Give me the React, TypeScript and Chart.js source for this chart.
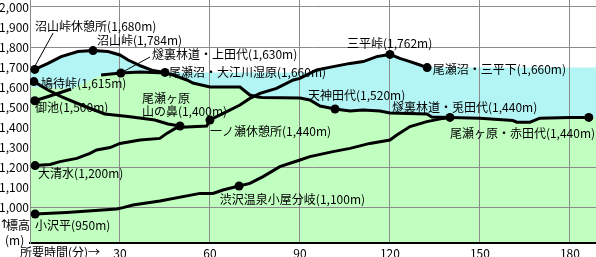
import React, { useEffect, useRef } from 'react';
import { Chart, registerables } from 'chart.js';

Chart.register(...registerables);

// ---- data (minutes from trailhead, elevation in m) ----
const xTicks = [30, 60, 90, 120, 150, 180];
const yTicks = [1000, 1100, 1200, 1300, 1400, 1500, 1600, 1700, 1800, 1900, 2000];
const yGridValues = [1000, 1200, 1800, 2000];

// 沼山峠休憩所 → 沼山峠 → 尾瀬沼・大江川湿原
const numayamaRoute: [number, number | null][] = [
  [1.6, 1688], [6, 1718], [10.4, 1752], [16, 1777], [21, 1782], [26, 1777],
  [30, 1760], [32.7, 1735], [37, 1705], [41, 1682], [45, 1673],
];
const numayamaStops = [1.6, 21, 45];

// 御池 → 燧裏林道・上田代 → 天神田代 → 兎田代 → 赤田代
const oikeRoute: [number, number | null][] = [
  [1.6, 1531], [8.7, 1565], [13.7, 1590], [18, null], [23.7, 1660], [30.3, 1670],
  [36.7, 1675], [45, 1670], [47.7, 1660], [52.3, 1635], [54.3, 1620], [60, 1600],
  [70, 1600], [73.3, 1560], [76, 1550], [77.3, 1548], [90, 1545], [93.3, 1535],
  [96.7, 1505], [101.7, 1490], [106.7, 1480], [111, 1485], [116.7, 1480], [120, 1470],
  [132.3, 1465], [134, 1450], [140, 1448], [150, 1444], [161, 1432], [162.3, 1424],
  [166.7, 1424], [170, 1444], [180, 1448], [186.3, 1448],
];
const oikeStops = [1.6, 30.3, 101.7, 140, 186.3];

// 鳩待峠 → 尾瀬ヶ原 山の鼻
const hatomachiRoute: [number, number | null][] = [
  [1.3, 1627], [6, 1585], [10.4, 1552], [17.1, 1510], [24.9, 1465], [32.7, 1452],
  [41.6, 1435], [46, 1415], [50, 1405],
];
const hatomachiStops = [1.3, 50];

// 大清水 → 一ノ瀬休憩所 → 三平峠 → 尾瀬沼・三平下
const oshimizuRoute: [number, number | null][] = [
  [1.7, 1207], [6.7, 1213], [10, 1227], [15.6, 1243], [20, 1268], [22.2, 1285],
  [26.7, 1297], [30, 1318], [36.7, 1335], [43.3, 1343], [45.6, 1368], [48.9, 1397],
  [58.9, 1405], [60, 1435], [65.6, 1477], [70, 1510], [73.3, 1543], [76.7, 1568],
  [82.2, 1593], [87.8, 1635], [90, 1643], [95.6, 1685], [101.1, 1702], [106.7, 1718],
  [111.1, 1727], [115.6, 1752], [120, 1763], [123.3, 1743], [126.7, 1727], [130, 1710],
  [132.4, 1697],
];
const oshimizuStops = [1.7, 60, 120, 132.4];

// 小沢平 → 渋沢温泉小屋分岐 → 兎田代
const kozawadairaRoute: [number, number | null][] = [
  [1.7, 965], [12.2, 973], [28.9, 990], [31, 997], [34.3, 1010], [43.3, 1030],
  [56.7, 1068], [61, 1068], [64.3, 1085], [69.7, 1105], [73.3, 1118], [77.7, 1152],
  [83.3, 1202], [90, 1235], [93.3, 1252], [101, 1277], [106.7, 1293], [113.3, 1318],
  [120, 1335], [122.3, 1360], [126.7, 1402], [132.3, 1427], [137.7, 1443], [140, 1447],
];
const kozawadairaStops = [1.7, 69.7];

// background bands
const cyanTop: [number, number][] = [
  [0, 1688], [1.6, 1688], [6, 1718], [10.4, 1752], [16, 1777], [21, 1782], [26, 1777],
  [30, 1760], [32.7, 1735], [37, 1705], [41, 1682], [45, 1673], [93.5, 1673],
  [95.6, 1685], [101.1, 1702], [106.7, 1718], [111.1, 1727], [115.6, 1752], [120, 1763],
  [123.3, 1743], [126.7, 1727], [130, 1710], [132.4, 1697], [189, 1697],
];
const greenTop: [number, number][] = [
  [0, 1600], [13.7, 1590], [23.7, 1660], [30.3, 1670], [36.7, 1675], [45, 1670],
  [47.7, 1660], [52.3, 1635], [54.3, 1620], [60, 1600], [70, 1600], [73.3, 1560],
  [76, 1550], [77.3, 1548], [90, 1545], [93.3, 1535], [96.7, 1505], [101.7, 1490],
  [106.7, 1480], [111, 1485], [116.7, 1480], [120, 1470], [132.3, 1465], [134, 1450],
  [140, 1448], [150, 1444], [161, 1432], [162.3, 1424], [166.7, 1424], [170, 1444],
  [180, 1448], [189, 1448],
];

// place names (text, anchor minutes, anchor elevation, alignment)
const placeLabels: { text: string; t: number; v: number; align?: 'left' | 'right' }[] = [
  { text: '沼山峠休憩所(1,680m)', t: 1.7, v: 1905 },
  { text: '沼山峠(1,784m)', t: 22.3, v: 1835 },
  { text: '燧裏林道・上田代(1,630m)', t: 40.7, v: 1765 },
  { text: '尾瀬沼・大江川湿原(1,660m)', t: 46.3, v: 1675 },
  { text: '鳩待峠(1,615m)', t: 3.7, v: 1620 },
  { text: '御池(1,500m)', t: 1.7, v: 1500 },
  { text: '尾瀬ヶ原', t: 37.3, v: 1545 },
  { text: '山の鼻(1,400m)', t: 37.3, v: 1480 },
  { text: '一ノ瀬休憩所(1,440m)', t: 60, v: 1380 },
  { text: '大清水(1,200m)', t: 2.7, v: 1170 },
  { text: '小沢平(950m)', t: 1.7, v: 910 },
  { text: '渋沢温泉小屋分岐(1,100m)', t: 63.3, v: 1040 },
  { text: '天神田代(1,520m)', t: 92.7, v: 1560 },
  { text: '三平峠(1,762m)', t: 105.7, v: 1820 },
  { text: '尾瀬沼・三平下(1,660m)', t: 134.3, v: 1690 },
  { text: '燧裏林道・兎田代(1,440m)', t: 120.7, v: 1500 },
  { text: '尾瀬ヶ原・赤田代(1,440m)', t: 188.4, v: 1370, align: 'right' },
];
const leaderLines: [number, number, number, number][] = [
  [1.3, 1695, 7.7, 1870],
  [30.3, 1670, 40, 1750],
];

const FONT = "'Noto Sans CJK JP', 'Noto Sans', sans-serif";

const toXY = (arr: [number, number | null][]) => arr.map(([x, y]) => ({ x, y }));

const routeDataset = (data: [number, number | null][], stops: number[]) => ({
  data: toXY(data),
  borderColor: '#000',
  borderWidth: 3,
  fill: false,
  tension: 0,
  spanGaps: false,
  pointRadius: (ctx: any) => (ctx.raw && stops.includes(ctx.raw.x) ? 4.5 : 0),
  pointBackgroundColor: '#000',
  pointBorderWidth: 0,
  pointHoverRadius: 0,
});

const labelPlugin = {
  id: 'placeLabels',
  afterDatasetsDraw(chart: any) {
    const { ctx, scales } = chart;
    const xs = scales.x;
    const ys = scales.y;
    ctx.save();
    ctx.strokeStyle = '#000';
    ctx.lineWidth = 1;
    leaderLines.forEach(([t1, v1, t2, v2]) => {
      ctx.beginPath();
      ctx.moveTo(xs.getPixelForValue(t1), ys.getPixelForValue(v1));
      ctx.lineTo(xs.getPixelForValue(t2), ys.getPixelForValue(v2));
      ctx.stroke();
    });
    ctx.fillStyle = '#000';
    ctx.font = `12px ${FONT}`;
    ctx.textBaseline = 'middle';
    placeLabels.forEach((l) => {
      ctx.textAlign = l.align || 'left';
      ctx.fillText(l.text, xs.getPixelForValue(l.t), ys.getPixelForValue(l.v));
    });
    ctx.textAlign = 'left';
    // axis captions
    const area = chart.chartArea;
    ctx.font = `12px 'DejaVu Sans', sans-serif`;
    ctx.fillText('↑', -1, area.bottom - 18);
    ctx.font = `12px ${FONT}`;
    ctx.fillText('標高', 6, area.bottom - 18);
    ctx.fillText('(m)', 5, area.bottom - 3);
    ctx.fillText('所要時間(分)→', 20, area.bottom + 9);
    ctx.restore();
  },
};

export default function App() {
  const ref = useRef<HTMLCanvasElement | null>(null);
  useEffect(() => {
    if (!ref.current) return;
    const chart = new Chart(ref.current, {
      type: 'line',
      data: {
        datasets: [
          {
            data: toXY(greenTop),
            fill: 'start',
            backgroundColor: '#c1ffc1',
            borderColor: 'rgba(0,0,0,0)',
            borderWidth: 0,
            pointRadius: 0,
            tension: 0,
          },
          {
            data: toXY(cyanTop),
            fill: 'start',
            backgroundColor: '#b3f5f5',
            borderColor: 'rgba(0,0,0,0)',
            borderWidth: 0,
            pointRadius: 0,
            tension: 0,
          },
          routeDataset(numayamaRoute, numayamaStops),
          routeDataset(oikeRoute, oikeStops),
          routeDataset(hatomachiRoute, hatomachiStops),
          routeDataset(oshimizuRoute, oshimizuStops),
          routeDataset(kozawadairaRoute, kozawadairaStops),
        ] as any,
      },
      options: {
        animation: false,
        responsive: true,
        maintainAspectRatio: false,
        events: [],
        layout: { padding: 0, autoPadding: false },
        plugins: {
          legend: { display: false },
          tooltip: { enabled: false },
          filler: { drawTime: 'beforeDraw' },
        } as any,
        scales: {
          x: {
            type: 'linear',
            min: 0,
            max: 188.7,
            afterBuildTicks: (s: any) => {
              s.ticks = xTicks.map((value) => ({ value }));
            },
            afterFit: (s: any) => {
              s.height = 14;
              s.paddingLeft = 0;
              s.paddingRight = 0;
            },
            grid: { color: '#8c8c8c', lineWidth: 1, drawTicks: false },
            border: { display: true, color: '#000', width: 2 },
            ticks: {
              color: '#000',
              padding: 3,
              maxRotation: 0,
              autoSkip: false,
              font: { family: FONT, size: 12 },
              callback: (v: any) => String(v),
            },
          },
          y: {
            type: 'linear',
            min: 820,
            max: 2035,
            afterBuildTicks: (s: any) => {
              s.ticks = yTicks.map((value) => ({ value }));
            },
            afterFit: (s: any) => {
              s.width = 30;
              s.paddingTop = 0;
              s.paddingBottom = 0;
            },
            grid: {
              drawTicks: false,
              lineWidth: 1,
              color: (ctx: any) =>
                ctx.tick && yGridValues.includes(ctx.tick.value) ? '#8c8c8c' : 'rgba(0,0,0,0)',
            },
            border: { display: true, color: '#8c8c8c', width: 1 },
            ticks: {
              color: '#000',
              padding: 1,
              autoSkip: false,
              font: { family: FONT, size: 12 },
              callback: (v: any) => Number(v).toLocaleString('en-US'),
            },
          },
        },
      } as any,
      plugins: [labelPlugin],
    });
    return () => chart.destroy();
  }, []);
  return (
    <div style={{ position: 'fixed', left: 0, top: 0, width: 596, height: 257, background: '#fff' }}>
      <canvas ref={ref} />
    </div>
  );
}
